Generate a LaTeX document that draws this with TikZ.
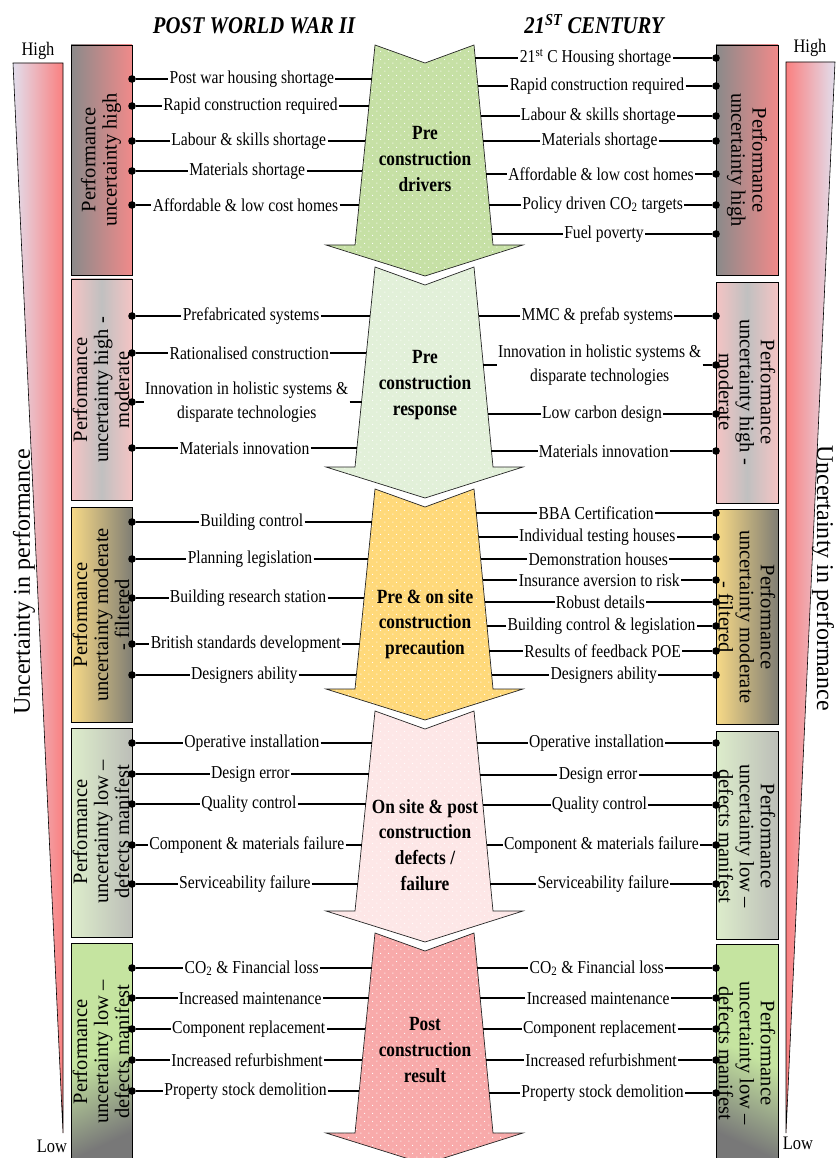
\documentclass[tikz,border=0pt]{standalone}
\usepackage{fontspec}
\setmainfont{Liberation Serif}
\newfontfamily\cond{Liberation Serif}[FakeStretch=0.86]
\usetikzlibrary{patterns.meta}

\definecolor{A1}{RGB}{198,224,165}
\definecolor{A2}{RGB}{226,240,217}
\definecolor{A3}{RGB}{255,217,122}
\definecolor{A4}{RGB}{253,231,231}
\definecolor{A5}{RGB}{248,170,170}
\definecolor{Bgray}{RGB}{138,138,138}
\definecolor{Bpink}{RGB}{240,138,138}
\definecolor{Bpink2}{RGB}{244,196,196}
\definecolor{Bmid}{RGB}{192,192,192}
\definecolor{Byel}{RGB}{248,218,135}
\definecolor{Bdark}{RGB}{128,126,116}
\definecolor{Bgreen}{RGB}{221,237,203}
\definecolor{Bgray4}{RGB}{188,190,184}
\definecolor{Bgreen5}{RGB}{197,228,160}
\definecolor{Bgray5}{RGB}{120,120,120}
\definecolor{Wlav}{RGB}{226,222,236}
\definecolor{Wred}{RGB}{250,128,128}

\tikzdeclarepattern{
  name=wdots,
  type=uncolored,
  bottom left={(0pt,0pt)},
  top right={(7pt,7pt)},
  tile size={(7pt,7pt)},
  code={\fill (1.75pt,1.75pt) circle (0.55pt); \fill (5.25pt,5.25pt) circle (0.55pt);}
}

\tikzset{
  lbl/.style={font=\cond\fontsize{15.5}{20}\selectfont, inner sep=1pt, align=center},
  dotn/.style={circle, fill=black, inner sep=0pt, minimum size=6.5pt},
  conn/.style={line width=1pt},
  sidebox/.style={draw=black, line width=0.8pt},
  boxtxt/.style={font=\fontsize{17.5}{18}\selectfont, align=center, inner sep=0pt},
  arrowtxt/.style={font=\cond\bfseries\fontsize{17.2}{22}\selectfont, align=center},
  hdr/.style={font=\cond\bfseries\itshape\fontsize{20.5}{22}\selectfont},
  wlbl/.style={font=\cond\fontsize{16.3}{18}\selectfont},
  unc/.style={font=\fontsize{20.5}{22}\selectfont},
  arrowpath/.style={preaction={fill=#1}, pattern=wdots, pattern color=white, draw=black!85, line width=0.6pt},
}

% left row: name, arrow top, y, text
\newcommand\lrow[4]{%
  \node[dotn] (#1d) at (132,#3) {};
  \coordinate (#1e) at ({375-20*(#3-#2)/200},#3);
  \node[lbl] (#1t) at ({(132+375-20*(#3-#2)/200)/2},#3) {#4};
  \draw[conn] (#1d) -- (#1t);
  \draw[conn] (#1t) -- (#1e);
}
% right row: name, arrow top, y, text
\newcommand\rrow[4]{%
  \node[dotn] (#1d) at (716,#3) {};
  \coordinate (#1e) at ({474+19*(#3-#2)/200},#3);
  \node[lbl] (#1t) at ({(716+474+19*(#3-#2)/200)/2},#3) {#4};
  \draw[conn] (#1e) -- (#1t);
  \draw[conn] (#1t) -- (#1d);
}
% big arrow: top, colour
\newcommand\bigarrow[2]{%
  \path[arrowpath=#2] (375,#1) -- (425,{#1+18}) -- (474,#1) -- (493,{#1+200})
    -- (523,{#1+200}) -- (425,{#1+231}) -- (326,{#1+200}) -- (355,{#1+200}) -- cycle;
}

\begin{document}
\begin{tikzpicture}[x=0.03cm, y=-0.03cm]
\useasboundingbox (0,0) rectangle (836,1158);
\clip (0,0) rectangle (836,1158);

% wedges
\shade[draw=black, line width=0.5pt, left color=Wlav, right color=Wred] (13,63) -- (63,63) -- (63,1133) -- cycle;
\shade[draw=black, line width=0.5pt, left color=Wred, right color=Wlav] (786,62) -- (835,62) -- (786,1133) -- cycle;
\node[wlbl] (hiL) at (38,51) {High};
\node[wlbl] (hiR) at (810,48) {High};
\node[wlbl] (loL) at (52,1146) {Low};
\node[wlbl] (loR) at (798,1143) {Low};
\node[unc, rotate=90] (uL) at (24,582) {Uncertainty in performance};
\node[unc, rotate=-90] (uR) at (823,578) {Uncertainty in performance};

% headers
\node[hdr] (h1) at (254,26) {POST WORLD WAR II};
\node[hdr] (h2) at (594,24) {21\textsuperscript{ST} CENTURY};

% side boxes left
\path[sidebox, left color=Bgray, right color=Bpink] (71,45) rectangle (132,275);
\path[sidebox, left color=Bpink2, right color=Bpink2, middle color=Bmid] (71,279) rectangle (132,500);
\path[sidebox, left color=Byel, right color=Bdark] (71,507) rectangle (132,722);
\path[sidebox, left color=Bgreen, right color=Bgray4] (71,728) rectangle (132,937);
\path[sidebox, top color=Bgreen5, bottom color=Bgray5, middle color=Bgreen5, shading angle=25] (71,943) rectangle (132,1162);
% side boxes right
\path[sidebox, left color=Bgray, right color=Bpink] (716,45) rectangle (778,275);
\path[sidebox, left color=Bpink2, right color=Bpink2, middle color=Bmid] (716,282) rectangle (778,503);
\path[sidebox, left color=Byel, right color=Bdark] (716,509) rectangle (778,724);
\path[sidebox, left color=Bgreen, right color=Bgray4] (716,731) rectangle (778,939);
\path[sidebox, top color=Bgreen5, bottom color=Bgray5, middle color=Bgreen5, shading angle=-25] (716,944) rectangle (778,1162);

\node[boxtxt, rotate=90] (LB1) at (101,160) {Performance\\uncertainty high};
\node[boxtxt, rotate=90] (LB2) at (101,390) {Performance\\uncertainty high -\\moderate};
\node[boxtxt, rotate=90] (LB3) at (101,615) {Performance\\uncertainty moderate\\- filtered};
\node[boxtxt, rotate=90] (LB4) at (101,832) {Performance\\uncertainty low –\\defects manifest};
\node[boxtxt, rotate=90] (LB5) at (101,1052) {Performance\\uncertainty low –\\defects manifest};
\node[boxtxt, rotate=-90] (RB1) at (747,160) {Performance\\uncertainty high};
\node[boxtxt, rotate=-90] (RB2) at (747,392) {Performance\\uncertainty high -\\moderate};
\node[boxtxt, rotate=-90] (RB3) at (747,617) {Performance\\uncertainty moderate\\- filtered};
\node[boxtxt, rotate=-90] (RB4) at (747,836) {Performance\\uncertainty low –\\defects manifest};
\node[boxtxt, rotate=-90] (RB5) at (747,1053) {Performance\\uncertainty low –\\defects manifest};

% big arrows
\bigarrow{45}{A1}
\bigarrow{267}{A2}
\bigarrow{489}{A3}
\bigarrow{711}{A4}
\bigarrow{933}{A5}
\node[arrowtxt] (T1) at (425,159) {Pre\\construction\\drivers};
\node[arrowtxt] (T2) at (425,385) {Pre\\construction\\response};
\node[arrowtxt] (T3) at (425,624) {Pre \& on site\\construction\\precaution};
\node[arrowtxt] (T4) at (425,845) {On site \& post\\construction\\defects /\\failure};
\node[arrowtxt] (T5) at (425,1050) {Post\\construction\\result};

% section 1
\lrow{L1a}{45}{79}{Post war housing shortage}
\lrow{L1b}{45}{106}{Rapid construction required}
\lrow{L1c}{45}{141}{Labour \& skills shortage}
\lrow{L1d}{45}{171}{Materials shortage}
\lrow{L1e}{45}{205}{Affordable \& low cost homes}
\rrow{R1a}{45}{58}{21\textsuperscript{st} C Housing shortage}
\rrow{R1b}{45}{86}{Rapid construction required}
\rrow{R1c}{45}{116}{Labour \& skills shortage}
\rrow{R1d}{45}{141}{Materials shortage}
\rrow{R1e}{45}{174}{Affordable \& low cost homes}
\rrow{R1f}{45}{205}{Policy driven CO\textsubscript{2} targets}
\rrow{R1g}{45}{234}{Fuel poverty}

% section 2
\lrow{L2a}{267}{316}{Prefabricated systems}
\lrow{L2b}{267}{353}{Rationalised construction}
\lrow{L2c}{267}{402}{Innovation in holistic systems \&\\disparate technologies}
\lrow{L2d}{267}{448}{Materials innovation}
\rrow{R2a}{267}{316}{MMC \& prefab systems}
\rrow{R2b}{267}{365}{Innovation in holistic systems \&\\disparate technologies}
\rrow{R2c}{267}{414}{Low carbon design}
\rrow{R2d}{267}{451}{Materials innovation}

% section 3
\lrow{L3a}{489}{522}{Building control}
\lrow{L3b}{489}{559}{Planning legislation}
\lrow{L3c}{489}{598}{Building research station}
\lrow{L3d}{489}{644}{British standards development}
\lrow{L3e}{489}{675}{Designers ability}
\rrow{R3a}{489}{513}{BBA Certification}
\rrow{R3b}{489}{537}{Individual testing houses}
\rrow{R3c}{489}{559}{Demonstration houses}
\rrow{R3d}{489}{580}{Insurance aversion to risk}
\rrow{R3e}{489}{602}{Robust details}
\rrow{R3f}{489}{626}{Building control \& legislation}
\rrow{R3g}{489}{651}{Results of feedback POE}
\rrow{R3h}{489}{675}{Designers ability}

% section 4
\lrow{L4a}{711}{743}{Operative installation}
\lrow{L4b}{711}{774}{Design error}
\lrow{L4c}{711}{804}{Quality control}
\lrow{L4d}{711}{845}{Component \& materials failure}
\lrow{L4e}{711}{884}{Serviceability failure}
\rrow{R4a}{711}{743}{Operative installation}
\rrow{R4b}{711}{775}{Design error}
\rrow{R4c}{711}{805}{Quality control}
\rrow{R4d}{711}{845}{Component \& materials failure}
\rrow{R4e}{711}{884}{Serviceability failure}

% section 5
\lrow{L5a}{933}{968}{CO\textsubscript{2} \& Financial loss}
\lrow{L5b}{933}{998}{Increased maintenance}
\lrow{L5c}{933}{1029}{Component replacement}
\lrow{L5d}{933}{1060}{Increased refurbishment}
\lrow{L5e}{933}{1091}{Property stock demolition}
\rrow{R5a}{933}{968}{CO\textsubscript{2} \& Financial loss}
\rrow{R5b}{933}{998}{Increased maintenance}
\rrow{R5c}{933}{1029}{Component replacement}
\rrow{R5d}{933}{1060}{Increased refurbishment}
\rrow{R5e}{933}{1093}{Property stock demolition}
\end{tikzpicture}
\end{document}
